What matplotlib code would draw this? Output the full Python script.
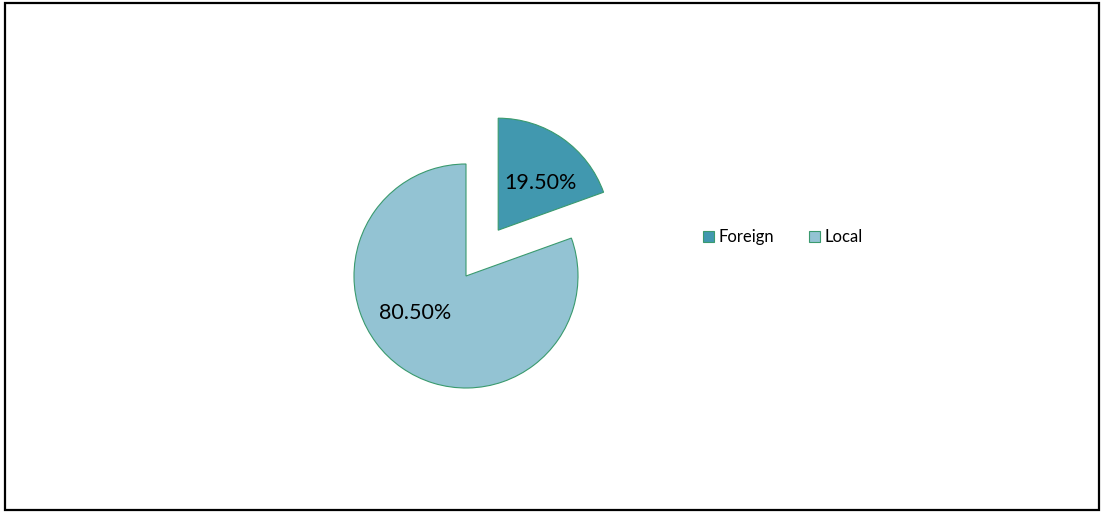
import matplotlib
matplotlib.use("Agg")
import matplotlib.pyplot as plt
from matplotlib.patches import Rectangle

categories = ["Foreign", "Local"]
values = [19.5, 80.5]
labels = ["19.50%", "80.50%"]
colors = ["#4198AF", "#93C3D3"]
edge = "#3A9A6E"

plt.rcParams['font.family'] = ['Lato', 'DejaVu Sans']

W, H = 1101, 512
fig = plt.figure(figsize=(W / 100, H / 100), dpi=100)
ax = fig.add_axes([0, 0, 1, 1])

cx, cy, r = 466, H - 276, 112
wedges, texts = ax.pie(values, explode=[0.5 * r, 0], colors=colors, startangle=90,
                       counterclock=False, center=(cx, cy), radius=r,
                       wedgeprops=dict(edgecolor=edge, linewidth=0.8),
                       frame=True)
ax.set_xlim(0, W)
ax.set_ylim(0, H)
ax.set_aspect('equal')
ax.axis('off')

# labels
ax.text(540, H - 183, labels[0], fontsize=15.5, ha='center', va='center', color='black')
ax.text(415, H - 313, labels[1], fontsize=15.5, ha='center', va='center', color='black')

# legend
handles = [Rectangle((0, 0), 1, 1, facecolor=c, edgecolor=edge, linewidth=0.8) for c in colors]
fig.legend(handles, categories, loc='center', bbox_to_anchor=(783 / W, 1 - 237 / H),
           ncol=2, frameon=False, fontsize=12, handlelength=0.65, handleheight=0.65,
           handletextpad=0.3, columnspacing=2.05)

# outer border
fig.patches.append(Rectangle((5 / W, 2 / H), 1094 / W, 507 / H, transform=fig.transFigure,
                             fill=False, edgecolor='black', linewidth=1.6))

fig.savefig("out.png", dpi=100)
